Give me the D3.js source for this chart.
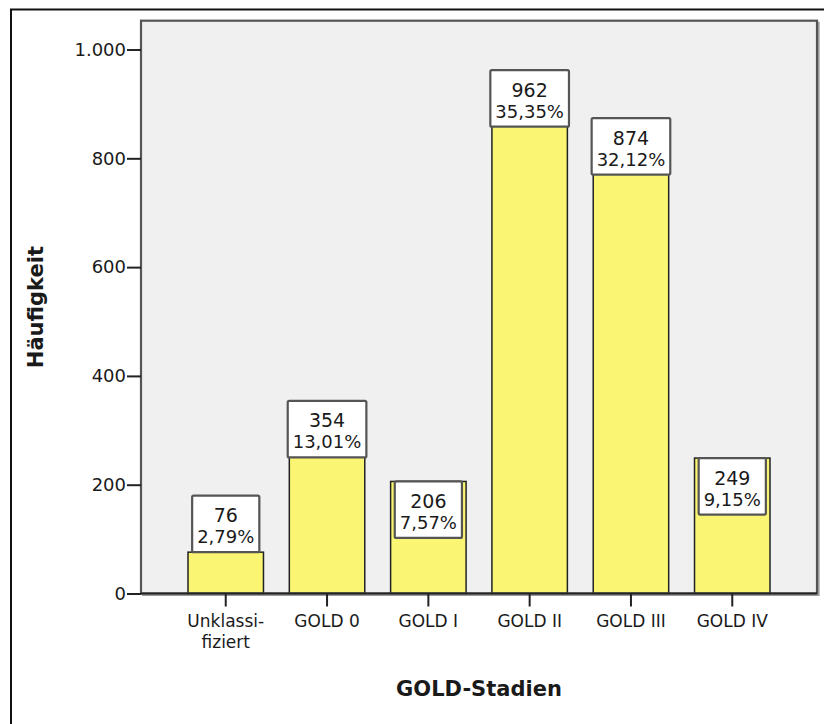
<!DOCTYPE html>
<html>
<head>
<meta charset="utf-8">
<script src="https://cdn.jsdelivr.net/npm/d3@7/dist/d3.min.js"></script>
<style>
  html, body { margin: 0; padding: 0; background: #ffffff; }
  svg { display: block; }
  text { font-family: "DejaVu Sans", Verdana, sans-serif; fill: #1a1a1a; }
</style>
</head>
<body>
<svg id="chart" width="824" height="724"></svg>
<script>
// ---- data ----
const categories = ["Unklassi-\nfiziert", "GOLD 0", "GOLD I", "GOLD II", "GOLD III", "GOLD IV"];
const counts = [76, 354, 206, 962, 874, 249];
const percents = ["2,79%", "13,01%", "7,57%", "35,35%", "32,12%", "9,15%"];
const yTicks = [0, 200, 400, 600, 800, 1000];
const xTitle = "GOLD-Stadien";
const yTitle = "Häufigkeit";

// ---- layout ----
const svg = d3.select("#chart");
const plot = { left: 141, right: 817, top: 20.7, bottom: 593.5 };

const x = d3.scaleBand()
  .domain(categories)
  .range([plot.left, plot.right])
  .paddingInner(0.255)
  .paddingOuter(0.464);

const y = d3.scaleLinear()
  .domain([0, 1053])
  .range([plot.bottom, plot.top]);

const deFormat = d3.formatLocale({ decimal: ",", thousands: ".", grouping: [3], currency: ["", "€"] }).format(",d");

// outer frame (extends beyond the visible area on right/bottom)
svg.append("rect")
  .attr("x", 11).attr("y", 9.5)
  .attr("width", 830).attr("height", 730)
  .attr("fill", "none").attr("stroke", "#111").attr("stroke-width", 2);

// plot background
svg.append("rect")
  .attr("x", plot.left).attr("y", plot.top)
  .attr("width", plot.right - plot.left).attr("height", plot.bottom - plot.top)
  .attr("fill", "#f0f0f0");

// bars
svg.append("g").selectAll("rect")
  .data(categories)
  .join("rect")
  .attr("x", d => x(d))
  .attr("y", (d, i) => y(counts[i]))
  .attr("width", x.bandwidth())
  .attr("height", (d, i) => y(0) - y(counts[i]))
  .attr("fill", "#faf573")
  .attr("stroke", "#222")
  .attr("stroke-width", 1.5);

// plot frame
svg.append("rect")
  .attr("x", plot.left).attr("y", plot.top)
  .attr("width", plot.right - plot.left).attr("height", plot.bottom - plot.top)
  .attr("fill", "none").attr("stroke", "#555").attr("stroke-width", 2.2);
svg.append("path")
  .attr("d", `M${plot.right + 1.8},${plot.top + 1}V${plot.bottom + 1.8}H${plot.left + 1}`)
  .attr("fill", "none").attr("stroke", "#999").attr("stroke-width", 1.6);

// y axis
const yAxis = svg.append("g")
  .attr("transform", `translate(${plot.left},0)`)
  .call(d3.axisLeft(y).tickValues(yTicks).tickFormat(deFormat).tickSize(14).tickPadding(1));
yAxis.select(".domain").remove();
yAxis.selectAll(".tick line").attr("stroke", "#222").attr("stroke-width", 2);
yAxis.selectAll(".tick text")
  .style("font-family", "DejaVu Sans, sans-serif").style("font-size", "18px").attr("fill", "#1a1a1a");

// x axis
const xAxis = svg.append("g")
  .attr("transform", `translate(0,${plot.bottom})`)
  .call(d3.axisBottom(x).tickSize(13).tickFormat(""));
xAxis.select(".domain").remove();
xAxis.selectAll(".tick line").attr("stroke", "#222").attr("stroke-width", 2);

svg.append("line")
  .attr("x1", plot.left).attr("x2", plot.right)
  .attr("y1", plot.bottom).attr("y2", plot.bottom)
  .attr("stroke", "#222").attr("stroke-width", 2);

const xl = svg.append("g").selectAll("text")
  .data(categories)
  .join("text")
  .attr("x", d => x(d) + x.bandwidth() / 2)
  .attr("y", 626.5)
  .attr("text-anchor", "middle")
  .style("font-size", "17px");
xl.each(function(d) {
  const lines = d.split("\n");
  const t = d3.select(this);
  lines.forEach((ln, k) => {
    t.append("tspan").attr("x", x(d) + x.bandwidth() / 2).attr("dy", k === 0 ? 0 : 21.5).text(ln);
  });
});

// value boxes
const boxH = 56.5;
const labels = svg.append("g");
categories.forEach((c, i) => {
  const cx = x(c) + x.bandwidth() / 2;
  const barTop = y(counts[i]);
  const barH = y(0) - barTop;
  const top = barH < boxH ? barTop - boxH : barTop;
  const g = labels.append("g");
  const r = g.append("rect");
  const t1 = g.append("text").attr("x", cx).attr("y", top + 26.5).attr("text-anchor", "middle")
    .style("font-size", "19px").text(counts[i]);
  const t2 = g.append("text").attr("x", cx).attr("y", top + 47.5).attr("text-anchor", "middle")
    .style("font-size", "18px").text(percents[i]);
  const w = Math.max(t1.node().getComputedTextLength(), t2.node().getComputedTextLength()) + 10;
  r.attr("x", cx - w / 2).attr("y", top).attr("width", w).attr("height", boxH)
    .attr("rx", 1.5)
    .attr("fill", "#ffffff").attr("stroke", "#555").attr("stroke-width", 2.2);
});

// axis titles
svg.append("text")
  .attr("x", (plot.left + plot.right) / 2).attr("y", 696)
  .attr("text-anchor", "middle")
  .style("font-size", "21px").style("font-weight", "bold")
  .text(xTitle);

svg.append("text")
  .attr("transform", `translate(43,${(plot.top + plot.bottom) / 2}) rotate(-90)`)
  .attr("text-anchor", "middle")
  .style("font-size", "21px").style("font-weight", "bold")
  .text(yTitle);
</script>
</body>
</html>
